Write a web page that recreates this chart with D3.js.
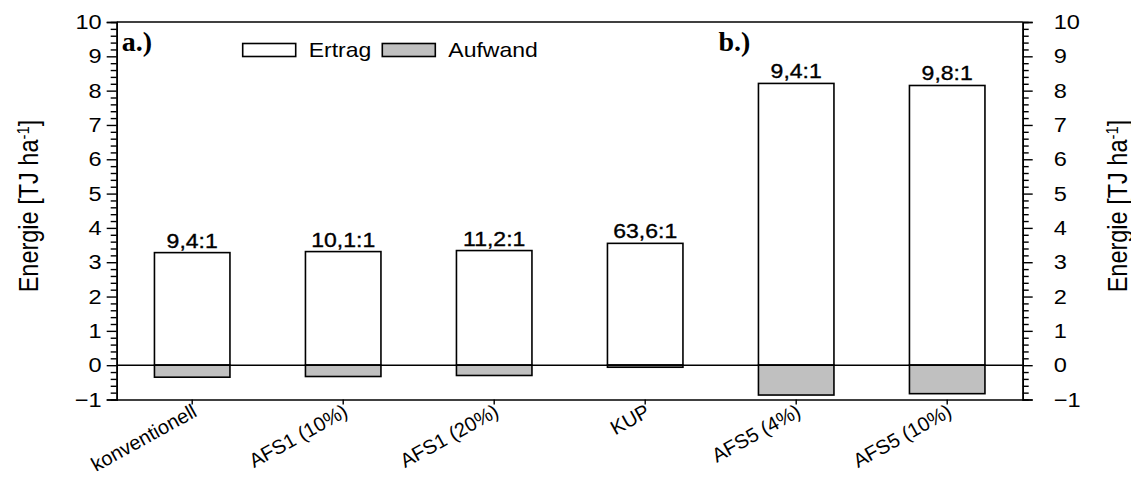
<!DOCTYPE html>
<html>
<head>
<meta charset="utf-8">
<script src="https://cdn.jsdelivr.net/npm/d3@7"></script>
<style>
  html, body { margin: 0; padding: 0; background: #fff; }
  svg { display: block; }
  text { font-family: "Liberation Sans", Arial, sans-serif; fill: #000; }
</style>
</head>
<body>
<svg id="chart" width="1131" height="495"></svg>
<script>
// Energy yield and energy input per system
const categories = ["konventionell", "AFS1 (10%)", "AFS1 (20%)", "KUP", "AFS5 (4%)", "AFS5 (10%)"];
const ertrag = [3.28, 3.31, 3.34, 3.55, 8.21, 8.15];
const aufwand = [-0.35, -0.33, -0.30, -0.06, -0.87, -0.83];
const ratioLabels = ["9,4:1", "10,1:1", "11,2:1", "63,6:1", "9,4:1", "9,8:1"];
const majorTicks = [-1, 0, 1, 2, 3, 4, 5, 6, 7, 8, 9, 10];
const minorTicks = [-0.8, -0.6, -0.4, -0.2, 0.2, 0.4, 0.6, 0.8, 1.2, 1.4, 1.6, 1.8,
  2.2, 2.4, 2.6, 2.8, 3.2, 3.4, 3.6, 3.8, 4.2, 4.4, 4.6, 4.8, 5.2, 5.4, 5.6, 5.8,
  6.2, 6.4, 6.6, 6.8, 7.2, 7.4, 7.6, 7.8, 8.2, 8.4, 8.6, 8.8, 9.2, 9.4, 9.6, 9.8];
const seriesNames = ["Ertrag", "Aufwand"];
const seriesFill = ["#ffffff", "#c0c0c0"];
const panelLabels = [{ text: "a.)", cat: 0 }, { text: "b.)", cat: 4 }];
const yTitle = "Energie [TJ ha";

const svg = d3.select("#chart");
const plotLeft = 116.7, plotRight = 1022.7, plotTop = 22, plotBottom = 399.5;
const wide = 1.15; // horizontal widening of the sans-serif lettering

const x = d3.scaleBand().domain(categories).range([plotLeft, plotRight])
  .paddingInner(0.5).paddingOuter(0.25);
const y = d3.scaleLinear().domain([-1, 10]).range([plotBottom, plotTop]);

const rows = categories.map((c, i) => ({ c, e: ertrag[i], a: aufwand[i], r: ratioLabels[i] }));

// yield bars (above zero)
svg.append("g").selectAll("rect").data(rows).join("rect")
  .attr("x", d => x(d.c)).attr("width", x.bandwidth())
  .attr("y", d => y(d.e)).attr("height", d => y(0) - y(d.e))
  .attr("fill", seriesFill[0]).attr("stroke", "#000").attr("stroke-width", 1.6);

// input bars (below zero)
svg.append("g").selectAll("rect").data(rows).join("rect")
  .attr("x", d => x(d.c)).attr("width", x.bandwidth())
  .attr("y", y(0)).attr("height", d => y(d.a) - y(0))
  .attr("fill", seriesFill[1]).attr("stroke", "#000").attr("stroke-width", 1.6);

// output:input ratio above each bar
svg.append("g").selectAll("text").data(rows).join("text")
  .attr("transform", d => `translate(${x(d.c) + x.bandwidth() / 2},${y(d.e) - 5}) scale(${wide},1)`)
  .attr("text-anchor", "middle")
  .attr("font-size", 20)
  .attr("stroke", "#000").attr("stroke-width", 0.35)
  .text(d => d.r);

// zero line
svg.append("line")
  .attr("x1", plotLeft).attr("x2", plotRight).attr("y1", y(0)).attr("y2", y(0))
  .attr("stroke", "#000").attr("stroke-width", 1.6);

// top frame line
svg.append("line")
  .attr("x1", plotLeft).attr("x2", plotRight).attr("y1", plotTop).attr("y2", plotTop)
  .attr("stroke", "#000").attr("stroke-width", 1.6);

function styleAxis(g) {
  g.select(".domain").attr("stroke", "#000").attr("stroke-width", 1.6);
  g.selectAll(".tick line").attr("stroke", "#000").attr("stroke-width", 1.4);
  g.selectAll(".tick text").attr("font-family", "Liberation Sans, Arial, sans-serif")
    .attr("font-size", 20.5).attr("fill", "#000");
}

// left axis
svg.append("g").attr("transform", `translate(${plotLeft},0)`)
  .call(d3.axisLeft(y).tickValues(minorTicks).tickSize(6).tickFormat(""))
  .call(styleAxis);
svg.append("g").attr("transform", `translate(${plotLeft},0)`)
  .call(d3.axisLeft(y).tickValues(majorTicks).tickSize(10).tickFormat(d3.format("d")))
  .call(styleAxis)
  .selectAll(".tick text")
  .attr("x", 0).attr("transform", `translate(-15,0) scale(${wide},1)`);

// right axis
svg.append("g").attr("transform", `translate(${plotRight},0)`)
  .call(d3.axisRight(y).tickValues(minorTicks).tickSize(6).tickFormat(""))
  .call(styleAxis);
svg.append("g").attr("transform", `translate(${plotRight},0)`)
  .call(d3.axisRight(y).tickValues(majorTicks).tickSize(10).tickFormat(d3.format("d")))
  .call(styleAxis)
  .selectAll(".tick text")
  .attr("x", 0).attr("transform", `translate(31,0) scale(${wide},1)`);

// bottom axis with slanted category labels
const xAxis = svg.append("g").attr("transform", `translate(0,${plotBottom})`)
  .call(d3.axisBottom(x).tickSize(5).tickSizeOuter(0))
  .call(styleAxis);
xAxis.selectAll(".tick text")
  .attr("font-size", 20)
  .attr("text-anchor", "end")
  .attr("dy", 0).attr("y", 0).attr("x", 0)
  .attr("transform", "translate(6,16) rotate(-29)");

// y axis titles
function yTitleText(g) {
  g.append("tspan").text(yTitle);
  g.append("tspan").attr("font-size", 15).attr("dy", -8).text("-1");
  g.append("tspan").attr("dy", 8).text("]");
}
svg.append("text")
  .attr("transform", `translate(38,206) rotate(-90) scale(1,${wide})`)
  .attr("text-anchor", "middle").attr("font-size", 23.5)
  .call(yTitleText);
svg.append("text")
  .attr("transform", `translate(1127,206) rotate(-90) scale(1,${wide})`)
  .attr("text-anchor", "middle").attr("font-size", 23.5)
  .call(yTitleText);

// panel labels
svg.append("g").selectAll("text").data(panelLabels).join("text")
  .attr("x", d => d.cat === 0 ? plotLeft + 5 : x(categories[d.cat]) - 40)
  .attr("y", 51)
  .attr("font-weight", "bold").attr("font-size", 28)
  .style("font-family", "'Liberation Serif', 'Times New Roman', serif")
  .text(d => d.text);

// legend
const legend = svg.append("g");
const legendX = [242.7, 382.3];
seriesNames.forEach((name, i) => {
  legend.append("rect")
    .attr("x", legendX[i]).attr("y", 43.5).attr("width", 53).attr("height", 13)
    .attr("fill", seriesFill[i]).attr("stroke", "#000").attr("stroke-width", 1.6);
  legend.append("text")
    .attr("transform", `translate(${legendX[i] + 66},57) scale(${wide},1)`)
    .attr("font-size", 20)
    .text(name);
});
</script>
</body>
</html>
